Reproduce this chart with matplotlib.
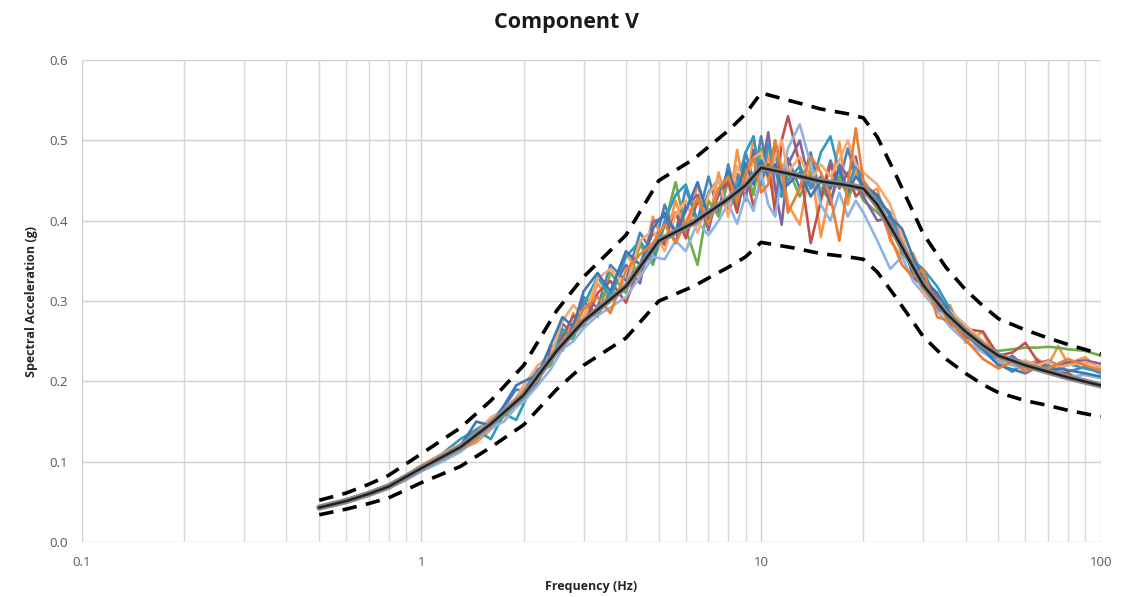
import matplotlib
matplotlib.use('Agg')
import matplotlib.pyplot as plt
from matplotlib.ticker import FixedLocator, FixedFormatter, NullFormatter

plt.rcParams['font.family'] = ['Open Sans', 'DejaVu Sans']

# target spectrum and +/-20% bounds
target_freq = [0.5, 0.6, 0.7, 0.8, 1.0, 1.3, 1.6, 2.0, 2.5, 3.0, 4.0, 5.0, 6.3, 8.0, 9.0,
               10, 12.5, 15, 18, 20, 22, 25, 30, 35, 40, 45, 50, 60, 70, 80, 100]
target_sa = [0.043, 0.051, 0.060, 0.069, 0.092, 0.118, 0.147, 0.183, 0.238, 0.275, 0.318,
             0.375, 0.397, 0.427, 0.444, 0.466, 0.457, 0.449, 0.444, 0.440, 0.420, 0.380,
             0.320, 0.285, 0.262, 0.245, 0.232, 0.220, 0.212, 0.205, 0.195]
upper_sa = [0.052, 0.061, 0.072, 0.083, 0.110, 0.142, 0.176, 0.220, 0.288, 0.330, 0.382,
            0.450, 0.476, 0.512, 0.533, 0.559, 0.548, 0.539, 0.533, 0.528, 0.504, 0.456,
            0.384, 0.342, 0.314, 0.294, 0.278, 0.264, 0.254, 0.246, 0.234]
lower_sa = [0.034, 0.041, 0.048, 0.055, 0.074, 0.094, 0.118, 0.146, 0.190, 0.220, 0.254,
            0.300, 0.318, 0.342, 0.355, 0.373, 0.366, 0.359, 0.355, 0.352, 0.336, 0.304,
            0.256, 0.228, 0.210, 0.196, 0.186, 0.176, 0.170, 0.164, 0.156]

# frequencies of the recorded spectra
freq = [0.5, 0.6, 0.7, 0.8, 0.9, 1.0, 1.15, 1.3, 1.45, 1.6, 1.75, 1.9,
        2.0, 2.2, 2.4, 2.6, 2.8, 3.0, 3.3, 3.6, 4.0, 4.4, 4.8, 5.2, 5.6,
        6.0, 6.5, 7.0, 7.5, 8.0, 8.5, 9.0, 9.5, 10, 10.5, 11, 11.5, 12,
        13, 14, 15, 16, 17, 18, 19, 20, 22, 24, 26, 28, 30, 33, 36, 40, 45,
        50, 55, 60, 65, 70, 75, 80, 90, 100]

rec_a = [0.044, 0.052, 0.061, 0.070, 0.082, 0.095, 0.108, 0.121, 0.140, 0.152, 0.168, 0.190,
         0.188, 0.215, 0.222, 0.272, 0.258, 0.305, 0.292, 0.345, 0.325, 0.385, 0.360, 0.420, 0.385,
         0.440, 0.400, 0.455, 0.410, 0.470, 0.425, 0.485, 0.450, 0.505, 0.460, 0.490, 0.430, 0.478,
         0.440, 0.485, 0.430, 0.475, 0.448, 0.490, 0.455, 0.445, 0.430, 0.385, 0.372, 0.335, 0.338,
         0.300, 0.285, 0.258, 0.238, 0.222, 0.232, 0.218, 0.226, 0.214, 0.222, 0.212, 0.218, 0.210]
rec_b = [0.042, 0.050, 0.059, 0.070, 0.079, 0.090, 0.102, 0.115, 0.124, 0.140, 0.156, 0.168,
         0.192, 0.198, 0.235, 0.240, 0.285, 0.270, 0.322, 0.300, 0.360, 0.330, 0.405, 0.370, 0.425,
         0.385, 0.445, 0.395, 0.460, 0.410, 0.488, 0.432, 0.505, 0.440, 0.485, 0.415, 0.470, 0.420,
         0.395, 0.470, 0.380, 0.440, 0.498, 0.420, 0.465, 0.430, 0.440, 0.375, 0.355, 0.360, 0.330,
         0.290, 0.295, 0.248, 0.262, 0.218, 0.226, 0.214, 0.228, 0.220, 0.244, 0.222, 0.230, 0.215]
rec_c = [0.043, 0.051, 0.060, 0.068, 0.079, 0.091, 0.104, 0.116, 0.130, 0.150, 0.158, 0.172,
         0.178, 0.210, 0.220, 0.260, 0.252, 0.300, 0.280, 0.335, 0.310, 0.370, 0.345, 0.395, 0.448,
         0.390, 0.345, 0.425, 0.405, 0.450, 0.418, 0.468, 0.432, 0.490, 0.450, 0.500, 0.445, 0.465,
         0.430, 0.460, 0.440, 0.425, 0.455, 0.430, 0.445, 0.425, 0.410, 0.395, 0.360, 0.345, 0.315,
         0.302, 0.270, 0.262, 0.240, 0.238, 0.240, 0.242, 0.242, 0.243, 0.242, 0.240, 0.238, 0.232]
rec_d = [0.044, 0.052, 0.061, 0.071, 0.081, 0.093, 0.106, 0.120, 0.135, 0.148, 0.162, 0.178,
         0.186, 0.200, 0.238, 0.255, 0.282, 0.268, 0.310, 0.325, 0.298, 0.345, 0.385, 0.370, 0.410,
         0.378, 0.425, 0.400, 0.432, 0.448, 0.410, 0.460, 0.418, 0.450, 0.470, 0.410, 0.500, 0.530,
         0.470, 0.372, 0.425, 0.470, 0.440, 0.460, 0.430, 0.440, 0.415, 0.400, 0.372, 0.338, 0.325,
         0.305, 0.272, 0.265, 0.262, 0.232, 0.236, 0.248, 0.226, 0.218, 0.212, 0.210, 0.200, 0.196]
rec_e = [0.042, 0.050, 0.059, 0.068, 0.078, 0.089, 0.103, 0.117, 0.131, 0.144, 0.163, 0.170,
         0.180, 0.198, 0.245, 0.238, 0.272, 0.300, 0.282, 0.312, 0.345, 0.322, 0.398, 0.405, 0.372,
         0.420, 0.432, 0.388, 0.440, 0.415, 0.458, 0.425, 0.488, 0.460, 0.510, 0.440, 0.395, 0.470,
         0.500, 0.440, 0.455, 0.420, 0.470, 0.455, 0.480, 0.430, 0.400, 0.405, 0.380, 0.330, 0.318,
         0.290, 0.282, 0.255, 0.248, 0.226, 0.228, 0.224, 0.222, 0.226, 0.220, 0.224, 0.226, 0.222]
rec_f = [0.043, 0.051, 0.060, 0.069, 0.080, 0.094, 0.110, 0.128, 0.140, 0.128, 0.160, 0.152,
         0.172, 0.212, 0.228, 0.265, 0.255, 0.295, 0.330, 0.305, 0.355, 0.375, 0.350, 0.400, 0.432,
         0.445, 0.398, 0.435, 0.452, 0.408, 0.445, 0.485, 0.505, 0.445, 0.495, 0.465, 0.430, 0.450,
         0.468, 0.440, 0.485, 0.505, 0.460, 0.440, 0.470, 0.450, 0.425, 0.410, 0.360, 0.350, 0.340,
         0.318, 0.290, 0.265, 0.244, 0.222, 0.212, 0.224, 0.215, 0.220, 0.214, 0.222, 0.216, 0.212]
rec_g = [0.042, 0.050, 0.058, 0.067, 0.077, 0.088, 0.100, 0.112, 0.128, 0.142, 0.150, 0.168,
         0.175, 0.195, 0.215, 0.240, 0.250, 0.266, 0.282, 0.292, 0.305, 0.330, 0.355, 0.352, 0.375,
         0.362, 0.398, 0.382, 0.400, 0.422, 0.396, 0.432, 0.412, 0.460, 0.420, 0.405, 0.455, 0.490,
         0.520, 0.470, 0.420, 0.400, 0.435, 0.405, 0.425, 0.410, 0.375, 0.340, 0.355, 0.325, 0.310,
         0.288, 0.268, 0.250, 0.236, 0.224, 0.220, 0.214, 0.218, 0.210, 0.212, 0.206, 0.208, 0.204]
rec_h = [0.043, 0.052, 0.062, 0.072, 0.083, 0.096, 0.110, 0.122, 0.136, 0.155, 0.165, 0.180,
         0.195, 0.220, 0.232, 0.275, 0.295, 0.280, 0.328, 0.340, 0.318, 0.375, 0.388, 0.362, 0.408,
         0.425, 0.385, 0.432, 0.452, 0.405, 0.468, 0.445, 0.478, 0.485, 0.450, 0.480, 0.500, 0.460,
         0.480, 0.450, 0.470, 0.455, 0.475, 0.500, 0.470, 0.460, 0.445, 0.420, 0.380, 0.345, 0.310,
         0.295, 0.288, 0.270, 0.250, 0.228, 0.222, 0.226, 0.220, 0.225, 0.218, 0.220, 0.224, 0.218]
rec_i = [0.044, 0.053, 0.062, 0.071, 0.082, 0.094, 0.107, 0.119, 0.150, 0.145, 0.170, 0.195,
         0.200, 0.208, 0.245, 0.280, 0.268, 0.312, 0.335, 0.312, 0.362, 0.345, 0.390, 0.410, 0.385,
         0.412, 0.448, 0.405, 0.435, 0.460, 0.435, 0.472, 0.445, 0.475, 0.455, 0.470, 0.440, 0.445,
         0.460, 0.430, 0.450, 0.440, 0.465, 0.435, 0.455, 0.445, 0.432, 0.405, 0.390, 0.355, 0.328,
         0.310, 0.285, 0.260, 0.240, 0.220, 0.215, 0.210, 0.218, 0.212, 0.216, 0.214, 0.210, 0.206]
rec_j = [0.042, 0.051, 0.060, 0.068, 0.080, 0.092, 0.104, 0.115, 0.128, 0.150, 0.158, 0.176,
         0.185, 0.202, 0.225, 0.250, 0.265, 0.290, 0.305, 0.285, 0.338, 0.358, 0.372, 0.395, 0.372,
         0.398, 0.428, 0.395, 0.440, 0.455, 0.425, 0.458, 0.478, 0.435, 0.445, 0.500, 0.465, 0.410,
         0.440, 0.480, 0.460, 0.430, 0.375, 0.445, 0.515, 0.450, 0.420, 0.380, 0.345, 0.330, 0.340,
         0.280, 0.275, 0.252, 0.228, 0.216, 0.225, 0.212, 0.218, 0.216, 0.222, 0.228, 0.220, 0.214]

records = [rec_a, rec_b, rec_c, rec_d, rec_e, rec_f, rec_g, rec_h, rec_i, rec_j]
colors = ['#4F81BD', '#F79646', '#70AD47', '#C0504D', '#8064A2',
          '#2E9BC0', '#8DB4E2', '#F9A870', '#3A78B8', '#ED7D31']

x_ticks = [0.1, 1, 10, 100]
x_labels = ['0.1', '1', '10', '100']
y_ticks = [0.0, 0.1, 0.2, 0.3, 0.4, 0.5, 0.6]

fig = plt.figure(figsize=(11.22, 5.97), dpi=100)
ax = fig.add_axes([0.073, 0.092, 0.908, 0.8075])

for rec, c in zip(records, colors):
    ax.plot(freq, rec, color=c, lw=1.9, zorder=2)

ax.plot(target_freq, upper_sa, color='black', lw=2.6, dashes=(4, 2.6), zorder=3)
ax.plot(target_freq, lower_sa, color='black', lw=2.6, dashes=(4, 2.6), zorder=3)
ax.plot(target_freq, target_sa, color='#8a8a8a', lw=4.5, zorder=4, solid_capstyle='round')
ax.plot(target_freq, target_sa, color='#222222', lw=1.8, zorder=5)

ax.set_xscale('log')
ax.set_xlim(0.1, 100)
ax.set_ylim(0, 0.6)
ax.xaxis.set_major_locator(FixedLocator(x_ticks))
ax.xaxis.set_major_formatter(FixedFormatter(x_labels))
ax.xaxis.set_minor_formatter(NullFormatter())
ax.set_yticks(y_ticks)
ax.set_yticklabels(['%.1f' % v for v in y_ticks])
ax.tick_params(which='both', length=0, labelsize=9.5, colors='#595959', pad=10)
ax.grid(True, which='major', color='#d0d0d0', lw=1.0, zorder=0)
ax.grid(True, which='minor', axis='x', color='#d9d9d9', lw=1.0, zorder=0)
for s in ax.spines.values():
    s.set_visible(False)

ax.set_xlabel('Frequency (Hz)', fontsize=9, fontweight='bold', color='#262626', labelpad=8)
ax.set_ylabel('Spectral Acceleration (g)', fontsize=9, fontweight='bold', color='#262626', labelpad=8)
fig.text(0.505, 0.963, 'Component V', ha='center', va='center', fontsize=15.5, fontweight='bold', color='#1a1a1a')

fig.savefig('out.png', dpi=100)
